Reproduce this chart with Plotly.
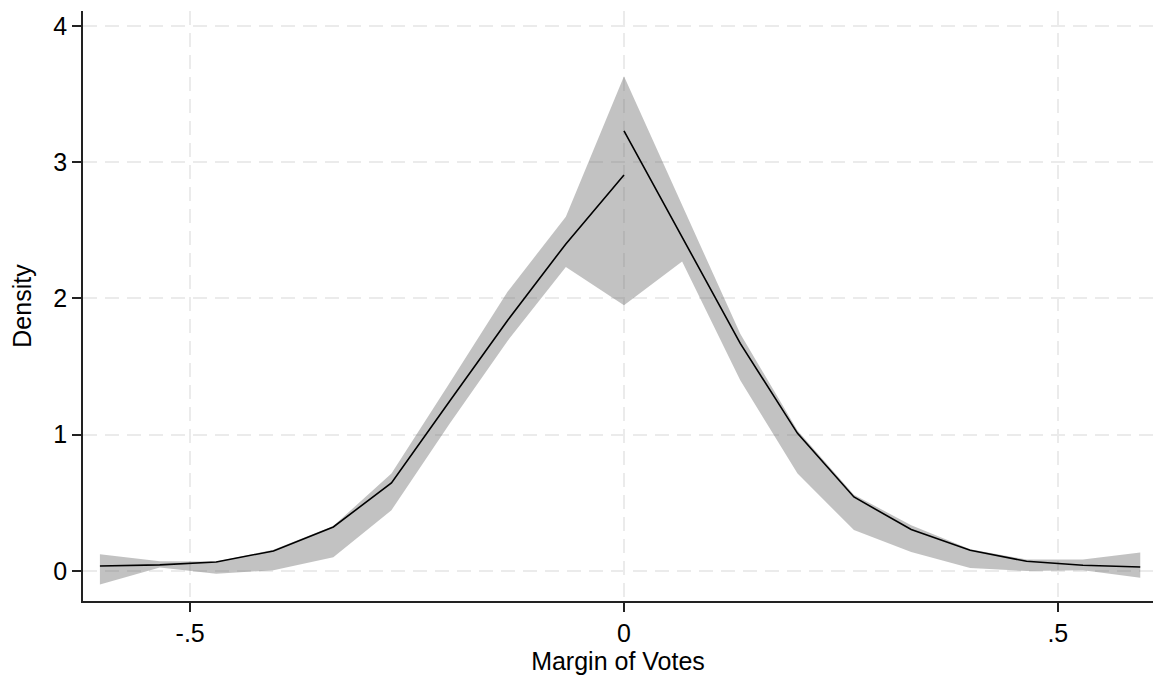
import plotly.graph_objects as go

# Bin positions (margin of votes) on each side of the cutoff
x_left = [-0.604, -0.535, -0.470, -0.404, -0.335, -0.268, -0.201, -0.134, -0.067, 0.0]
x_right = [0.0, 0.067, 0.134, 0.200, 0.265, 0.331, 0.399, 0.464, 0.529, 0.595]

# Estimated density and 95% confidence band, left of cutoff
dens_left = [0.037, 0.045, 0.066, 0.147, 0.323, 0.646, 1.246, 1.84, 2.40, 2.905]
upper_left = [0.123, 0.071, 0.070, 0.155, 0.330, 0.715, 1.38, 2.05, 2.60, 3.63]
lower_left = [-0.10, 0.025, -0.020, 0.005, 0.100, 0.446, 1.08, 1.69, 2.23, 1.95]

# Estimated density and 95% confidence band, right of cutoff
dens_right = [3.23, 2.45, 1.67, 1.01, 0.543, 0.304, 0.152, 0.071, 0.042, 0.029]
upper_right = [3.63, 2.68, 1.74, 1.03, 0.560, 0.335, 0.160, 0.084, 0.084, 0.135]
lower_right = [1.95, 2.27, 1.40, 0.715, 0.300, 0.140, 0.022, 0.000, 0.005, -0.050]

x_ticks = [-0.5, 0, 0.5]
x_tick_text = ["-.5", "0", ".5"]
y_ticks = [0, 1, 2, 3, 4]
y_tick_text = ["0", "1", "2", "3", "4"]

band_fill = "rgba(110,110,110,0.42)"
font = "Liberation Sans, Arial, sans-serif"
text_size = 25

fig = go.Figure()

for xs, up, lo in ((x_left, upper_left, lower_left), (x_right, upper_right, lower_right)):
    fig.add_trace(go.Scatter(
        x=xs + xs[::-1],
        y=up + lo[::-1],
        fill="toself",
        fillcolor=band_fill,
        line=dict(width=0),
        mode="lines",
        hoverinfo="skip",
        showlegend=False,
    ))

for xs, ys in ((x_left, dens_left), (x_right, dens_right)):
    fig.add_trace(go.Scatter(
        x=xs, y=ys, mode="lines",
        line=dict(color="black", width=1.6),
        showlegend=False,
    ))

axis_common = dict(
    showline=True, linecolor="#222222", linewidth=1.5,
    ticks="outside", ticklen=9, tickwidth=1.5, tickcolor="#222222",
    showgrid=True, gridcolor="#ebebeb", gridwidth=2, griddash="14px,8px",
    zeroline=False,
    tickfont=dict(family=font, size=text_size, color="black"),
)

fig.update_xaxes(
    range=[-0.6235, 0.6097],
    tickvals=x_ticks, ticktext=x_tick_text,
    title=dict(text="Margin of Votes", font=dict(family=font, size=text_size, color="black"), standoff=6),
    **axis_common,
)
fig.update_yaxes(
    range=[-0.2203, 4.109],
    tickvals=y_ticks, ticktext=y_tick_text,
    title=dict(text="Density", font=dict(family=font, size=text_size, color="black"), standoff=15),
    **axis_common,
)

fig.update_layout(
    width=1153, height=679,
    margin=dict(l=83, r=0, t=11, b=78),
    paper_bgcolor="white", plot_bgcolor="white",
    font=dict(family=font),
)

fig.write_html("out.html")
